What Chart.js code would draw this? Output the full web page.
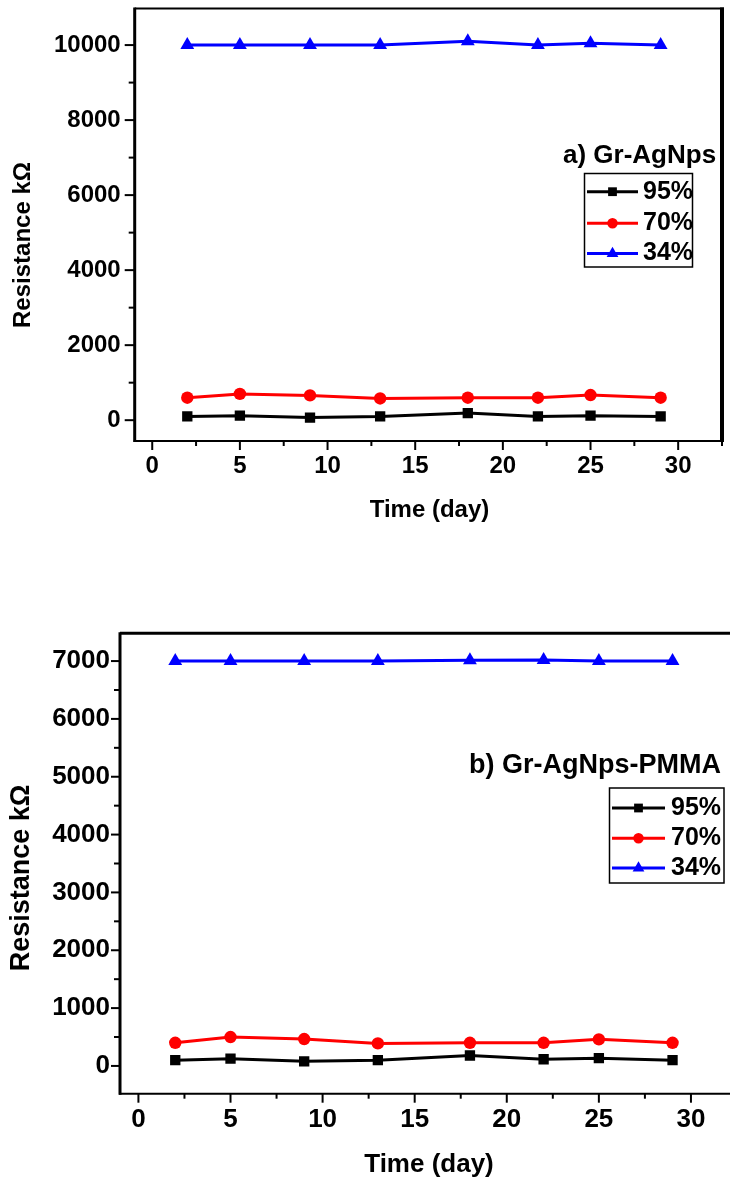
<!DOCTYPE html>
<html>
<head>
<meta charset="utf-8">
<script src="https://cdn.jsdelivr.net/npm/chart.js@4.4.1/dist/chart.umd.min.js"></script>
<style>
  html, body { margin:0; padding:0; background:#fff; overflow:hidden; width:730px; height:1182px; }
  .wrap { position:absolute; left:0; }
  canvas { display:block; }
</style>
</head>
<body>
<div class="wrap" style="top:0px;width:730px;height:530px;"><canvas id="cA" width="730" height="530"></canvas></div>
<div class="wrap" style="top:600px;width:745px;height:582px;"><canvas id="cB" width="745" height="582"></canvas></div>
<script>
// ---------- data ----------
const days = [2, 5, 9, 13, 18, 22, 25, 29];
const seriesLabels = ['95%', '70%', '34%'];

// a) Gr-AgNps
const a95 = [100, 120, 70, 100, 190, 100, 120, 100];
const a70 = [600, 700, 660, 580, 600, 600, 670, 600];
const a34 = [10000, 10000, 10000, 10000, 10100, 10000, 10050, 10000];

// b) Gr-AgNps-PMMA
const b95 = [100, 125, 80, 100, 180, 115, 135, 100];
const b70 = [400, 500, 465, 390, 400, 400, 460, 400];
const b34 = [7000, 7000, 7000, 7000, 7015, 7020, 7000, 7000];

// tick labels
const xTicks = [0, 5, 10, 15, 20, 25, 30];
const xMinor = [2.5, 7.5, 12.5, 17.5, 22.5, 27.5, 32.5];
const yTicksA = [0, 2000, 4000, 6000, 8000, 10000];
const yMinorA = [1000, 3000, 5000, 7000, 9000];
const yTicksB = [0, 1000, 2000, 3000, 4000, 5000, 6000, 7000];
const yMinorB = [500, 1500, 2500, 3500, 4500, 5500, 6500];

const FONT = "'Liberation Sans', Arial, Helvetica, sans-serif";
const colors = ['#000000', '#ff0000', '#0000ff'];
const styles = ['rect', 'circle', 'triangle'];
const radii = [7.3, 6.2, 8];

// ---------- plugin: frame, ticks, titles, legend ----------
const framePlugin = {
  id: 'frame',
  afterDraw(chart) {
    const o = chart.options.plugins.frame;
    const {ctx, chartArea: a, scales: {x, y}} = chart;
    ctx.save();
    ctx.strokeStyle = '#000';
    ctx.lineCap = 'butt';
    ctx.lineWidth = 2;
    const tick = (px1, py1, px2, py2) => { ctx.beginPath(); ctx.moveTo(px1, py1); ctx.lineTo(px2, py2); ctx.stroke(); };
    o.xMajor.forEach(v => { const p = x.getPixelForValue(v); tick(p, a.bottom, p, a.bottom + 9); });
    o.xMinor.forEach(v => { const p = x.getPixelForValue(v); tick(p, a.bottom, p, a.bottom + 5); });
    o.yMajor.forEach(v => { const p = y.getPixelForValue(v); tick(a.left, p, a.left - o.yTickLen, p); });
    o.yMinor.forEach(v => { const p = y.getPixelForValue(v); tick(a.left, p, a.left - 6, p); });
    // frame
    ctx.lineWidth = o.topW; tick(a.left, a.top, a.right + 2, a.top);
    ctx.lineWidth = o.rightW; tick(a.right, a.top - 1, a.right, a.bottom + 1);
    ctx.lineWidth = 2; tick(a.left - 1, a.bottom, a.right + 2, a.bottom);
    ctx.lineWidth = 3; tick(a.left, a.top - 1, a.left, a.bottom + 1);

    // axis titles
    ctx.fillStyle = '#000';
    ctx.textAlign = 'center';
    ctx.textBaseline = 'middle';
    ctx.font = 'bold ' + o.xTitleSize + 'px ' + FONT;
    ctx.fillText('Time (day)', o.xTitleX, o.xTitleY);
    ctx.save();
    ctx.translate(o.yTitleX, o.yTitleY);
    ctx.rotate(-Math.PI / 2);
    ctx.font = 'bold ' + o.yTitleSize + 'px ' + FONT;
    ctx.fillText('Resistance k\u03A9', 0, 0);
    ctx.restore();

    // legend
    const L = o.legend;
    ctx.textAlign = 'left';
    ctx.font = 'bold ' + L.titleSize + 'px ' + FONT;
    ctx.fillText(L.title, L.titleX, L.titleY);
    ctx.font = 'bold 25px ' + FONT;
    ctx.lineWidth = 1.5;
    ctx.strokeRect(L.boxL, L.boxT, L.boxR - L.boxL, L.boxB - L.boxT);
    chart.data.datasets.forEach((ds, i) => {
      const yy = L.rows[i];
      ctx.strokeStyle = ds.borderColor;
      ctx.lineWidth = 3;
      tick(L.lineL, yy, L.lineR, yy);
      ctx.fillStyle = ds.backgroundColor;
      Chart.helpers.drawPoint(ctx, {pointStyle: ds.pointStyle, radius: ds.pointRadius * 0.85, borderWidth: 0}, (L.lineL + L.lineR) / 2, yy);
      ctx.fillStyle = '#000';
      ctx.fillText(ds.label, L.textX, yy);
    });
    ctx.restore();
  }
};

function makeDatasets(vals) {
  return vals.map((arr, i) => ({
    label: seriesLabels[i],
    data: days.map((d, k) => ({x: d, y: arr[k]})),
    borderColor: colors[i],
    backgroundColor: colors[i],
    pointBackgroundColor: colors[i],
    pointBorderColor: colors[i],
    pointBorderWidth: 0,
    pointStyle: styles[i],
    pointRadius: radii[i],
    borderWidth: 3,
    tension: 0,
    fill: false
  }));
}

function makeChart(id, cfg) {
  const tickFont = {family: FONT, size: cfg.tickSize, weight: 'bold'};
  return new Chart(document.getElementById(id), {
    type: 'line',
    data: {datasets: makeDatasets(cfg.series)},
    plugins: [framePlugin],
    options: {
      responsive: false,
      animation: false,
      devicePixelRatio: 1,
      layout: {padding: cfg.padding},
      plugins: {
        legend: {display: false},
        tooltip: {enabled: false},
        frame: cfg.frame
      },
      scales: {
        x: {
          type: 'linear', min: -1, max: 32.5,
          grid: {display: false, drawTicks: true, tickLength: 9},
          border: {display: false},
          ticks: {color: '#000', font: tickFont, padding: 2, maxRotation: 0, autoSkip: false, callback: v => String(v)},
          afterBuildTicks: s => { s.ticks = xTicks.map(v => ({value: v})); },
          afterFit: s => { s.height = cfg.xH; s.paddingLeft = 0; s.paddingRight = 0; }
        },
        y: {
          type: 'linear', min: cfg.yMin, max: cfg.yMax,
          grid: {display: false, drawTicks: true, tickLength: cfg.frame.yTickLen},
          border: {display: false},
          ticks: {color: '#000', font: tickFont, padding: cfg.yPad, autoSkip: false, callback: v => String(v)},
          afterBuildTicks: s => { s.ticks = cfg.yTicks.map(v => ({value: v})); },
          afterFit: s => { s.width = cfg.yW; s.paddingTop = 0; s.paddingBottom = 0; }
        }
      }
    }
  });
}

// chart a
makeChart('cA', {
  series: [a95, a70, a34],
  yMin: -555, yMax: 10975, yTicks: yTicksA,
  tickSize: 24, yPad: 4,
  padding: {top: 8.5, right: 5.7, left: 0, bottom: 0},
  yW: 134.7, xH: 89,
  frame: {
    xMajor: xTicks, xMinor: xMinor, yMajor: yTicksA, yMinor: yMinorA,
    yTickLen: 10,
    topW: 2, rightW: 4,
    xTitleX: 429.5, xTitleY: 510, xTitleSize: 24,
    yTitleX: 23, yTitleY: 245, yTitleSize: 24,
    legend: {
      title: 'a) Gr-AgNps', titleSize: 26, titleX: 563, titleY: 156,
      boxL: 584.5, boxT: 173.5, boxR: 692.5, boxB: 267,
      lineL: 587, lineR: 638, textX: 643,
      rows: [191.7, 223.3, 253.5]
    }
  }
});

// chart b (canvas top = 600)
makeChart('cB', {
  series: [b95, b70, b34],
  yMin: -480, yMax: 7480, yTicks: yTicksB,
  tickSize: 26, yPad: 1,
  padding: {top: 33.3, right: 4.7, left: 0, bottom: 0},
  yW: 120, xH: 88.3,
  frame: {
    xMajor: xTicks, xMinor: xMinor, yMajor: yTicksB, yMinor: yMinorB,
    yTickLen: 9,
    topW: 3, rightW: 3,
    xTitleX: 429, xTitleY: 565, xTitleSize: 26,
    yTitleX: 22, yTitleY: 278, yTitleSize: 27,
    legend: {
      title: 'b) Gr-AgNps-PMMA', titleSize: 27, titleX: 469, titleY: 166,
      boxL: 609.5, boxT: 188, boxR: 724, boxB: 283,
      lineL: 612, lineR: 665, textX: 671,
      rows: [208, 238.3, 268]
    }
  }
});
</script>
</body>
</html>
